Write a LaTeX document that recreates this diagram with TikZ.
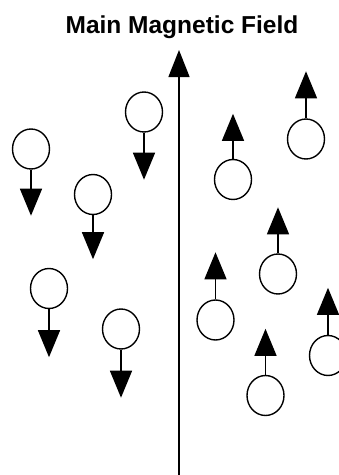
\documentclass[tikz,border=0pt]{standalone}
\usepackage{fontspec}
\setmainfont{Liberation Sans}
\usetikzlibrary{shapes.geometric, arrows.meta, positioning}

\begin{document}
\begin{tikzpicture}[x=1pt, y=-1pt,
	spin/.style={ellipse, draw, line width=1.4pt, inner sep=0pt, minimum width=37pt, minimum height=40pt},
	moment/.style={line width=1.4pt, -{Triangle[length=27pt, width=22pt]}},
	field/.style={line width=1.4pt, -{Triangle[length=27pt, width=21pt]}},
]
	\useasboundingbox (0,0) rectangle (339,475);

	% Title
	\node[font=\bfseries\fontsize{24.5}{28}\selectfont, anchor=base] (title) at (182,33) {Main Magnetic Field};

	% Main field axis
	\coordinate (axisbot) at (179,476);
	\coordinate (axistop) at (179,50);
	\draw[field] (axisbot) -- (axistop);

	% Spins pointing down (left)
	\node[spin] (dn1) at (31,149) {};
	\node[spin] (dn2) at (93,194.5) {};
	\node[spin] (dn3) at (144,112) {};
	\node[spin] (dn4) at (49,288.5) {};
	\node[spin] (dn5) at (121,329) {};

	\coordinate[below=46pt of dn1] (dn1tip);
	\coordinate[below=44pt of dn2] (dn2tip);
	\coordinate[below=47pt of dn3] (dn3tip);
	\coordinate[below=48pt of dn4] (dn4tip);
	\coordinate[below=48pt of dn5] (dn5tip);

	\draw[moment] (dn1.south) -- (dn1tip);
	\draw[moment] (dn2.south) -- (dn2tip);
	\draw[moment] (dn3.south) -- (dn3tip);
	\draw[moment] (dn4.south) -- (dn4tip);
	\draw[moment] (dn5.south) -- (dn5tip);

	% Spins pointing up (right)
	\node[spin] (up1) at (233,179.5) {};
	\node[spin] (up2) at (306,139) {};
	\node[spin] (up3) at (278,274) {};
	\node[spin] (up4) at (215.5,320) {};
	\node[spin] (up5) at (265.5,395.5) {};
	\node[spin] (up6) at (328,355.5) {};

	\coordinate[above=45pt of up1] (up1tip);
	\coordinate[above=47pt of up2] (up2tip);
	\coordinate[above=46pt of up3] (up3tip);
	\coordinate[above=47pt of up4] (up4tip);
	\coordinate[above=46pt of up5] (up5tip);
	\coordinate[above=47pt of up6] (up6tip);

	\draw[moment] (up1.north) -- (up1tip);
	\draw[moment] (up2.north) -- (up2tip);
	\draw[moment] (up3.north) -- (up3tip);
	\draw[moment] (up4.north) -- (up4tip);
	\draw[moment] (up5.north) -- (up5tip);
	\draw[moment] (up6.north) -- (up6tip);

\end{tikzpicture}
\end{document}
